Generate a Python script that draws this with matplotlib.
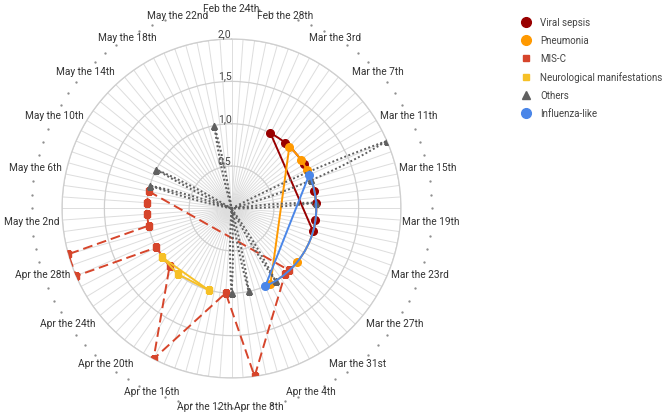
import numpy as np
import pandas as pd
import matplotlib
matplotlib.use("Agg")
from matplotlib import pyplot as plt
from matplotlib.lines import Line2D

plt.rcParams['font.family'] = ['Roboto', 'DejaVu Sans']

START = pd.Timestamp("2020-02-24")
PERIOD = 92  # days shown around the full circle

# tick labels every 4 days, starting at START
date_labels = ["Feb the 24th", "Feb the 28th", "Mar the 3rd", "Mar the 7th", "Mar the 11th",
               "Mar the 15th", "Mar the 19th", "Mar the 23rd", "Mar the 27th", "Mar the 31st",
               "Apr the 4th", "Apr the 8th", "Apr the 12th", "Apr the 16th", "Apr the 20th",
               "Apr the 24th", "Apr the 28th", "May the 2nd", "May the 6th", "May the 10th",
               "May the 14th", "May the 18th", "May the 22nd"]
radial_ticks = [0.5, 1.0, 1.5, 2.0]
radial_labels = ["0,5", "1,0", "1,5", "2,0"]

# series: dates and number of cases
sepsis_dates = ["2020-03-02", "2020-03-05", "2020-03-10", "2020-03-15", "2020-03-17",
                "2020-03-20", "2020-03-22"]
sepsis_vals = [1, 1, 1, 1, 1, 1, 1]

pneumonia_dates = ["2020-03-06", "2020-03-09", "2020-03-11", "2020-03-28", "2020-04-03"]
pneumonia_vals = [1, 1, 1, 1, 1]

misc_dates = ["2020-03-30", "2020-03-31", "2020-04-08", "2020-04-11", "2020-04-17",
              "2020-04-22", "2020-04-26", "2020-04-27", "2020-04-29", "2020-04-30",
              "2020-05-02", "2020-05-04", "2020-05-06"]
misc_vals = [1, 1, 2, 1, 2, 1, 1, 2, 2, 1, 1, 1, 1]

neuro_dates = ["2020-04-14", "2020-04-20", "2020-04-24"]
neuro_vals = [1, 1, 1]

others_dates = ["2020-03-11", "2020-03-12", "2020-03-13", "2020-03-14",
                "2020-03-16", "2020-03-17", "2020-03-18",
                "2020-04-01", "2020-04-02", "2020-04-03",
                "2020-04-06", "2020-04-07", "2020-04-08",
                "2020-04-09", "2020-04-10", "2020-04-11",
                "2020-05-06", "2020-05-07", "2020-05-08",
                "2020-05-09", "2020-05-10", "2020-05-11",
                "2020-05-22", "2020-05-23", "2020-05-24"]
others_vals = [0, 2, 1, 0,
               0, 1, 0,
               0, 1, 0,
               0, 1, 0,
               0, 1, 0,
               0, 1, 0,
               0, 1, 0,
               0, 1, 0]

flu_dates = ["2020-03-12", "2020-04-04"]
flu_vals = [1, 1]


def to_theta(dates):
    days = (pd.to_datetime(dates) - START).days.to_numpy()
    return days * 2 * np.pi / PERIOD


fig = plt.figure(figsize=(6.69, 4.19), dpi=100)
ax = fig.add_axes([0.0927, 0.0979, 0.5067, 0.809], projection='polar')
ax.set_theta_zero_location('N')
ax.set_theta_direction(-1)
ax.set_ylim(0, 2)

# one spoke per day, rings every 0.5
ax.set_xticks(np.arange(PERIOD) * 2 * np.pi / PERIOD)
ax.set_xticklabels([])
ax.set_yticks(radial_ticks)
ax.set_yticklabels([])
ax.tick_params(length=0)
ax.xaxis.grid(True, color='#dddddd', lw=0.7)
ax.yaxis.grid(True, color='#cfcfcf', lw=0.9)
ax.spines['polar'].set_color('#cfcfcf')
ax.spines['polar'].set_linewidth(0.9)

for v, s in zip(radial_ticks, radial_labels):
    ax.text(0, v, s, ha='right', va='bottom', fontsize=7.5, color='#444444')

label_r = 2.36
for i in range(PERIOD):
    th = i * 2 * np.pi / PERIOD
    if i % 4 == 0 and i // 4 < len(date_labels):
        ax.text(th, label_r, date_labels[i // 4], ha='center', va='center',
                fontsize=7.3, color='#333333', clip_on=False)
    elif i < 88:
        ax.plot([th], [label_r], marker='.', ms=1.3, color='#8a8a8a', clip_on=False)


def draw(dates, vals, color, marker, ms, ls, lw, label, curved=True):
    th = to_theta(dates)
    r = np.array(vals, dtype=float)
    mask = list(r > 0)
    line, = ax.plot(th, r, color=color, lw=lw, ls=ls, marker=marker, ms=ms,
                    markevery=mask, label=label, zorder=3)
    if curved:
        # segments between dates follow the polar grid
        line.get_path()._interpolation_steps = 80
    # closing segment is a straight chord
    ax.plot([th[-1], th[0]], [r[-1], r[0]], color=color, lw=lw, ls=ls, zorder=3)


draw(sepsis_dates, sepsis_vals, '#990000', 'o', 5.5, '-', 1.4, 'Viral sepsis')
draw(pneumonia_dates, pneumonia_vals, '#ff9900', 'o', 5.5, '-', 1.4, 'Pneumonia')
draw(misc_dates, misc_vals, '#d6452b', 's', 4.3, (0, (5, 2.5)), 1.4, 'MIS-C', curved=False)
draw(neuro_dates, neuro_vals, '#f6c026', 's', 4.3, '-', 1.4, 'Neurological manifestations',
     curved=False)
draw(others_dates, others_vals, '#606060', '^', 4.5, (0, (1, 1.2)), 1.4, 'Others')
draw(flu_dates, flu_vals, '#4a86e8', 'o', 5.5, '-', 1.4, 'Influenza-like')

handles = [
    Line2D([], [], ls='none', marker='o', ms=7, color='#990000', label='Viral sepsis'),
    Line2D([], [], ls='none', marker='o', ms=7, color='#ff9900', label='Pneumonia'),
    Line2D([], [], ls='none', marker='s', ms=5, color='#d6452b', label='MIS-C'),
    Line2D([], [], ls='none', marker='s', ms=5, color='#f6c026', label='Neurological manifestations'),
    Line2D([], [], ls='none', marker='^', ms=5.5, color='#606060', label='Others'),
    Line2D([], [], ls='none', marker='o', ms=7, color='#4a86e8', label='Influenza-like'),
]
leg = fig.legend(handles=handles, loc='upper left', bbox_to_anchor=(0.7794, 0.9576),
                 frameon=False, fontsize=7, handlelength=1.0, handletextpad=0.9,
                 borderpad=0, borderaxespad=0, labelspacing=0.82)
for t in leg.get_texts():
    t.set_color('#444444')

fig.savefig('out.png', dpi=100)
